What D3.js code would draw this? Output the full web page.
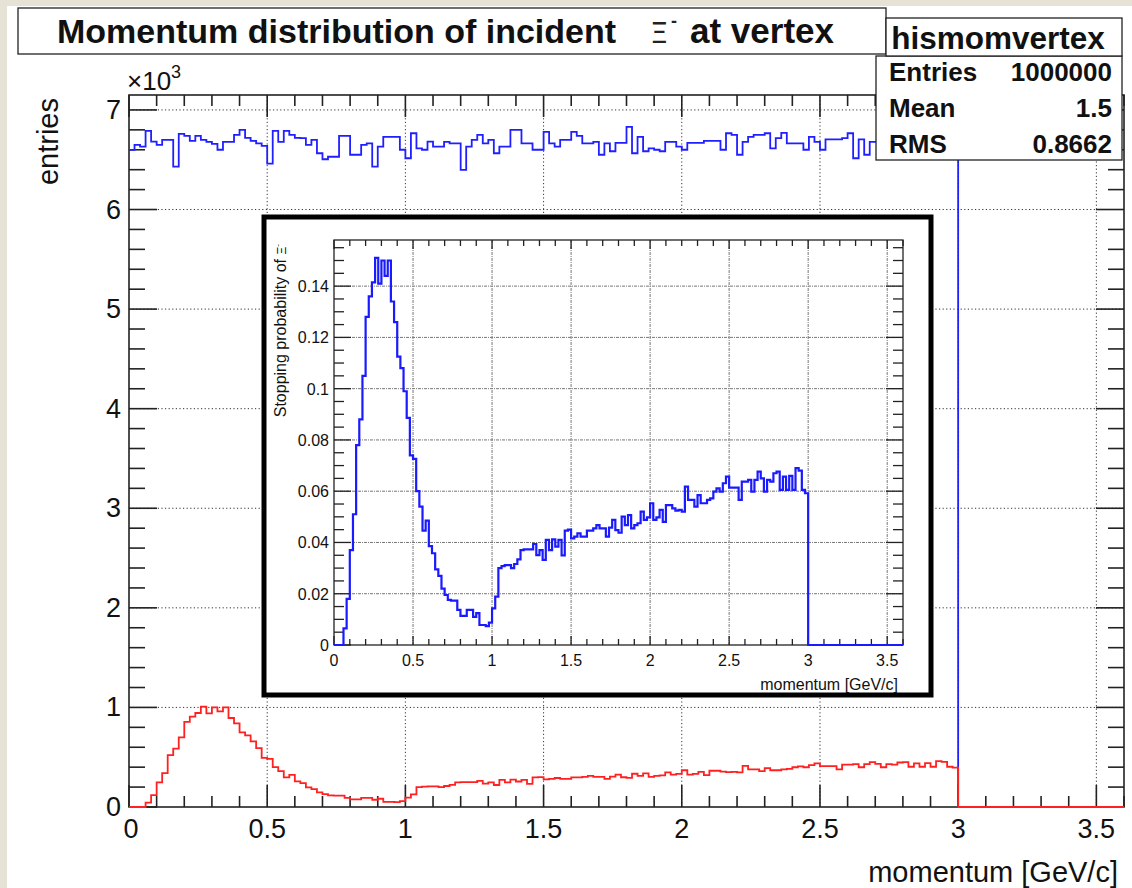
<!DOCTYPE html>
<html><head><meta charset="utf-8">
<script src="https://cdn.jsdelivr.net/npm/d3@7"></script>
<style>html,body{margin:0;padding:0;background:#fff;} svg{display:block;}</style>
</head><body>
<script>
// ---------------- data ----------------
const binLow = 0, binWidth = 0.02, nBins = 180;   // histogram range 0 .. 3.6 GeV/c
// entries per bin, momentum at vertex (blue, main pad)
const vertexCounts = [
 6599,6649,6632,6790,6682,6650,6700,6700,6430,6760,
 6740,6690,6740,6700,6680,6660,6600,6680,6680,6750,
 6800,6720,6690,6665,6640,6460,6790,6680,6790,6750,
 6720,6716,6650,6700,6565,6505,6530,6530,6740,6740,
 6550,6550,6650,6665,6430,6632,6730,6730,6730,6600,
 6515,6766,6615,6600,6682,6632,6632,6680,6665,6665,
 6398,6632,6700,6750,6665,6700,6565,6632,6632,6799,
 6800,6665,6665,6600,6600,6780,6665,6632,6700,6700,
 6780,6740,6665,6665,6680,6550,6665,6585,6670,6670,
 6830,6565,6730,6585,6615,6600,6585,6680,6680,6632,
 6600,6670,6670,6670,6690,6690,6690,6600,6766,6750,
 6550,6680,6730,6750,6750,6766,6615,6716,6770,6665,
 6665,6665,6600,6730,6680,6600,6705,6705,6705,6716,
 6766,6515,6705,6550,6680,6680,6700,6650,6720,6680,
 6610,6690,6740,6660,6700,6630,6710,6680,6650,6640];
// stopped entries per bin (red, main pad)
const stopCounts = [
 0,0,0,43,120,247,340,520,587,700,
 854,907,944,1007,940,1000,960,1000,894,840,
 750,720,660,591,494,484,400,360,297,323,
 257,239,197,180,147,130,117,115,115,91,
 76,76,91,91,73,83,52,52,49,58,
 95,126,200,205,208,208,200,211,223,247,
 249,249,249,263,234,247,221,273,247,275,
 256,273,233,297,300,277,282,291,282,282,
 297,297,303,312,303,303,282,305,325,299,
 292,334,312,338,303,312,317,347,325,332,
 369,325,332,352,320,364,364,356,350,352,
 347,412,378,378,360,390,369,369,378,382,
 399,408,399,421,438,410,410,410,378,425,
 425,430,399,430,451,434,399,430,425,447,
 451,404,438,404,440,404,460,454,404,395];
// stopping probability per bin (inset)
const stopProb = [
 0,0,0,0.0065,0.018,0.037,0.051,0.078,0.088,0.105,
 0.128,0.136,0.1415,0.151,0.141,0.150,0.144,0.150,0.134,0.126,
 0.1125,0.108,0.099,0.0886,0.074,0.0726,0.060,0.054,0.0446,0.0485,
 0.0386,0.0358,0.0295,0.027,0.022,0.0195,0.0176,0.0173,0.0173,0.0137,
 0.0114,0.0114,0.0137,0.0137,0.011,0.0124,0.0078,0.0078,0.0074,0.0087,
 0.0143,0.0189,0.030,0.0308,0.0312,0.0312,0.030,0.0316,0.0334,0.037,
 0.0373,0.0373,0.0373,0.0394,0.0351,0.037,0.0332,0.041,0.037,0.0412,
 0.0384,0.041,0.035,0.0446,0.045,0.0416,0.0423,0.0436,0.0423,0.0423,
 0.0446,0.0446,0.0455,0.0468,0.0455,0.0455,0.0423,0.0458,0.0488,0.0448,
 0.0438,0.0501,0.0468,0.0507,0.0455,0.0468,0.0475,0.052,0.0488,0.0498,
 0.0553,0.0488,0.0498,0.0527,0.048,0.0546,0.0546,0.0533,0.0524,0.0527,
 0.052,0.0618,0.0566,0.0566,0.054,0.0585,0.0553,0.0553,0.0566,0.0572,
 0.0598,0.0611,0.0598,0.0631,0.0657,0.0614,0.0614,0.0614,0.0566,0.0637,
 0.0637,0.0644,0.0598,0.0644,0.0676,0.0650,0.0598,0.0644,0.0637,0.0670,
 0.0676,0.0605,0.0657,0.0605,0.0660,0.0605,0.0690,0.0680,0.0605,0.0592];

const xTicks = [0,0.5,1,1.5,2,2.5,3,3.5];
const xTickLabels = ["0","0.5","1","1.5","2","2.5","3","3.5"];
const mainYTicks = [0,1000,2000,3000,4000,5000,6000,7000];
const mainYTickLabels = ["0","1","2","3","4","5","6","7"];
const insetYTicks = [0,0.02,0.04,0.06,0.08,0.1,0.12,0.14];
const insetYTickLabels = ["0","0.02","0.04","0.06","0.08","0.1","0.12","0.14"];
const statsNames = ["Entries","Mean","RMS"];
const statsValues = ["1000000","1.5","0.8662"];
const histName = "hismomvertex";

// ---------------- drawing ----------------
const W = 1132, H = 888;
const FONT = "'Liberation Sans', Arial, Helvetica, sans-serif";
const svg = d3.select("body").append("svg").attr("width", W).attr("height", H);

// backdrop (slide behind the canvas)
svg.append("rect").attr("width", W).attr("height", H).attr("fill", "#e6e2d6");
svg.append("rect").attr("x", 7).attr("y", 6).attr("width", W - 7).attr("height", H - 6).attr("fill", "#fff");

function histPoints(vals) {
  const pts = [];
  for (let i = 0; i < nBins; i++) pts.push([binLow + i * binWidth, i < vals.length ? vals[i] : 0]);
  pts.push([binLow + nBins * binWidth, 0]);
  return pts;
}

function drawFrame(g, x, y, c) {
  const [xl, xr] = x.range(), [yb, yt] = y.range();
  const gg = g.append("g");
  // grid
  xTicks.forEach(v => { const px = x(v); if (px > xl + 1 && px < xr - 1)
    gg.append("line").attr("x1", px).attr("x2", px).attr("y1", yb).attr("y2", yt)
      .attr("stroke", c.gridColor).attr("stroke-width", 1).attr("stroke-dasharray", c.gridDash); });
  c.yTicks.forEach(v => { const py = y(v); if (py < yb - 1 && py > yt + 1)
    gg.append("line").attr("x1", xl).attr("x2", xr).attr("y1", py).attr("y2", py)
      .attr("stroke", c.gridColor).attr("stroke-width", 1).attr("stroke-dasharray", c.gridDash); });
  // ticks
  const tick = (x1, y1, x2, y2) => gg.append("line").attr("x1", x1).attr("y1", y1).attr("x2", x2).attr("y2", y2)
    .attr("stroke", "#222").attr("stroke-width", c.tickWidth);
  const xMinor = d3.range(x.domain()[0], x.domain()[1] + 1e-9, 0.1);
  xMinor.forEach(v => {
    const major = xTicks.some(t => Math.abs(t - v) < 1e-6);
    const len = major ? c.xMajorLen : c.xMinorLen;
    tick(x(v), yb, x(v), yb - len); tick(x(v), yt, x(v), yt + len);
  });
  const yMinor = d3.range(0, y.domain()[1] + 1e-12, c.yMinorStep);
  yMinor.forEach(v => {
    const major = c.yTicks.some(t => Math.abs(t - v) < c.yMinorStep / 10);
    const len = major ? c.yMajorLen : c.yMinorLen;
    tick(xl, y(v), xl + len, y(v)); tick(xr, y(v), xr - len, y(v));
  });
  // frame
  gg.append("rect").attr("x", xl).attr("y", yt).attr("width", xr - xl).attr("height", yb - yt)
    .attr("fill", "none").attr("stroke", "#222").attr("stroke-width", c.frameWidth);
  // labels
  xTicks.forEach((v, i) => gg.append("text").attr("x", x(v) + (v === 0 ? c.zeroDx : 0)).attr("y", yb + c.xLabelDy)
    .attr("text-anchor", "middle").attr("font-family", FONT).attr("font-size", c.labelSize).attr("fill", "#111")
    .text(xTickLabels[i]));
  c.yTicks.forEach((v, i) => gg.append("text").attr("x", xl - c.yLabelDx).attr("y", y(v) + c.yLabelDy)
    .attr("text-anchor", "end").attr("font-family", FONT).attr("font-size", c.labelSize).attr("fill", "#111")
    .text(c.yTickLabels[i]));
}

// ----- main pad -----
const xMain = d3.scaleLinear().domain([0, 3.6]).range([129, 1124]);
const yMain = d3.scaleLinear().domain([0, 7150]).range([807, 95]);
const gMain = svg.append("g");
drawFrame(gMain, xMain, yMain, {
  yTicks: mainYTicks, yTickLabels: mainYTickLabels, yMinorStep: 200,
  gridColor: "#333", gridDash: "1.2,2.4", tickWidth: 1.6, frameWidth: 1.6,
  xMajorLen: 22, xMinorLen: 11, yMajorLen: 28, yMinorLen: 16,
  labelSize: 27, xLabelDy: 31, yLabelDx: 8, yLabelDy: 9, zeroDx: 2
});
const lineMain = d3.line().x(d => xMain(d[0])).y(d => yMain(d[1])).curve(d3.curveStepAfter);
gMain.append("path").attr("d", lineMain(histPoints(vertexCounts)))
  .attr("fill", "none").attr("stroke", "#1f1fff").attr("stroke-width", 1.8);
gMain.append("path").attr("d", lineMain(histPoints(stopCounts)))
  .attr("fill", "none").attr("stroke", "#ff2020").attr("stroke-width", 1.8);

// axis titles main
svg.append("text").attr("transform", "translate(58,98) rotate(-90)").attr("text-anchor", "end")
  .attr("font-family", FONT).attr("font-size", 29).attr("fill", "#111").text("entries");
const tx = svg.append("text").attr("x", 127).attr("y", 90).attr("font-family", FONT).attr("font-size", 26).attr("fill", "#111");
tx.append("tspan").text("×10");
tx.append("tspan").attr("font-size", 18).attr("dy", -12).text("3");
svg.append("text").attr("x", 1118).attr("y", 882).attr("text-anchor", "end")
  .attr("font-family", FONT).attr("font-size", 29).attr("fill", "#111").text("momentum [GeV/c]");

// ----- inset pad -----
svg.append("rect").attr("x", 264).attr("y", 217).attr("width", 667).attr("height", 478)
  .attr("fill", "#fff").attr("stroke", "#000").attr("stroke-width", 5);
const xIn = d3.scaleLinear().domain([0, 3.6]).range([334, 903]);
const yIn = d3.scaleLinear().domain([0, 0.158]).range([645, 240]);
const gIn = svg.append("g");
drawFrame(gIn, xIn, yIn, {
  yTicks: insetYTicks, yTickLabels: insetYTickLabels, yMinorStep: 0.005,
  gridColor: "#777", gridDash: "3,1,1,1", tickWidth: 1.3, frameWidth: 1.3,
  xMajorLen: 9, xMinorLen: 6, yMajorLen: 17, yMinorLen: 10,
  labelSize: 16, xLabelDy: 21, yLabelDx: 5, yLabelDy: 6, zeroDx: 0
});
const lineIn = d3.line().x(d => xIn(d[0])).y(d => yIn(d[1])).curve(d3.curveStepAfter);
gIn.append("path").attr("d", lineIn(histPoints(stopProb)))
  .attr("fill", "none").attr("stroke", "#1a1aff").attr("stroke-width", 2.2);
const ty = svg.append("text").attr("transform", "translate(286,244) rotate(-90)").attr("text-anchor", "end")
  .attr("font-family", FONT).attr("font-size", 16).attr("fill", "#111");
ty.append("tspan").text("Stopping probability of ");
ty.append("tspan").attr("font-size", 12).text("Ξ");
ty.append("tspan").attr("font-size", 8).attr("dy", -6).text("-");
svg.append("text").attr("x", 898).attr("y", 690).attr("text-anchor", "end")
  .attr("font-family", FONT).attr("font-size", 16).attr("fill", "#111").text("momentum [GeV/c]");

// ----- title box -----
svg.append("rect").attr("x", 18).attr("y", 8).attr("width", 868).attr("height", 46)
  .attr("fill", "#fff").attr("stroke", "#222").attr("stroke-width", 1.3);
svg.append("text").attr("x", 57).attr("y", 43).attr("font-family", FONT).attr("font-weight", "bold")
  .attr("font-size", 34).attr("fill", "#111").text("Momentum distribution of incident");
svg.append("text").attr("x", 650).attr("y", 43).attr("font-family", "'DejaVu Sans', sans-serif")
  .attr("font-size", 29).attr("fill", "#222").text("Ξ");
svg.append("text").attr("x", 671).attr("y", 27).attr("font-family", FONT).attr("font-weight", "bold")
  .attr("font-size", 18).attr("fill", "#222").text("-");
svg.append("text").attr("x", 690).attr("y", 43).attr("font-family", FONT).attr("font-weight", "bold")
  .attr("font-size", 35).attr("fill", "#111").text("at vertex");

// ----- stats box -----
svg.append("rect").attr("x", 876).attr("y", 56).attr("width", 246).attr("height", 104)
  .attr("fill", "#fff").attr("stroke", "#222").attr("stroke-width", 1.3);
svg.append("rect").attr("x", 886).attr("y", 18).attr("width", 236).attr("height", 38)
  .attr("fill", "#fff").attr("stroke", "#222").attr("stroke-width", 1.3);
svg.append("text").attr("x", 998).attr("y", 49).attr("text-anchor", "middle").attr("font-family", FONT)
  .attr("font-weight", "bold").attr("font-size", 31.5).attr("fill", "#111").text(histName);
statsNames.forEach((n, i) => {
  const yy = 81 + i * 36;
  svg.append("text").attr("x", 889).attr("y", yy).attr("font-family", FONT).attr("font-weight", "bold")
    .attr("font-size", 26).attr("fill", "#111").text(n);
  svg.append("text").attr("x", 1112).attr("y", yy).attr("text-anchor", "end").attr("font-family", FONT)
    .attr("font-weight", "bold").attr("font-size", 26).attr("fill", "#111").text(statsValues[i]);
});
</script>
</body></html>
